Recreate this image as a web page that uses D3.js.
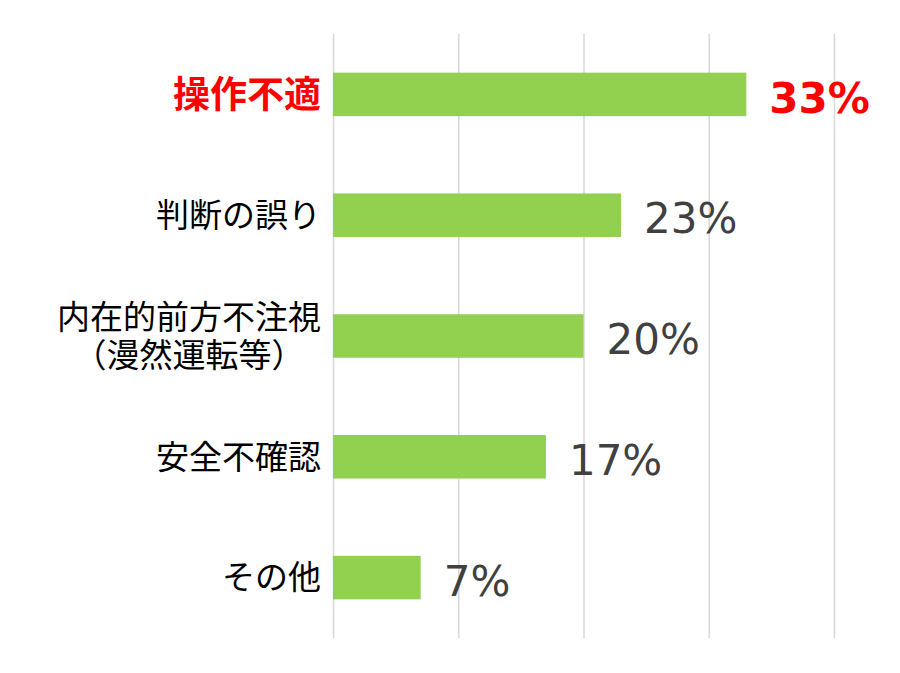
<!DOCTYPE html>
<html>
<head>
<meta charset="utf-8">
<script src="https://cdn.jsdelivr.net/npm/d3@7"></script>
<style>
  body { margin: 0; background: #fff; }
  svg { display: block; }
</style>
</head>
<body>
<svg id="causeChart"></svg>
<script>
// categories (a line break inside a label is a new line)
let categories = ["操作不適", "判断の誤り", "内在的前方不注視\n（漫然運転等）", "安全不確認", "その他"];
// share of accidents, percent
let values = [33, 23, 20, 17, 7];
// gridline ticks, percent
let gridTicks = [0, 10, 20, 30, 40];
// category drawn in red / bold
let highlight = "操作不適";

function getConfig() {
    let width = 900;
    let height = 673;
    let margin = { top: 34, bottom: 35, left: 333, right: 66 };
    let bodyHeight = height - margin.top - margin.bottom;
    let bodyWidth = width - margin.left - margin.right;
    let container = d3.select("#causeChart")
        .attr("width", width)
        .attr("height", height);
    return { width, height, margin, bodyHeight, bodyWidth, container };
}

function getScales(config) {
    let { margin, bodyWidth, bodyHeight } = config;
    let xScale = d3.scaleLinear()
        .domain([0, d3.max(gridTicks)])
        .range([margin.left, margin.left + bodyWidth]);
    let yScale = d3.scaleBand()
        .domain(categories)
        .range([margin.top, margin.top + bodyHeight])
        .paddingInner(0.64)
        .paddingOuter(0.32);
    return { xScale, yScale };
}

function drawGrid(scales, config) {
    let { xScale } = scales;
    let { container, margin, bodyHeight } = config;
    // vertical gridlines only, drawn with an axis and then stripped
    let axis = d3.axisBottom(xScale)
        .tickValues(gridTicks)
        .tickSize(-bodyHeight)
        .tickFormat("");
    let g = container.append("g")
        .attr("transform", "translate(0," + (margin.top + bodyHeight) + ")")
        .call(axis);
    g.select(".domain").remove();
    g.selectAll(".tick line")
        .attr("stroke", "#d9d9d9")
        .attr("stroke-width", 1.6);
}

function drawBars(scales, config) {
    let { xScale, yScale } = scales;
    let { container } = config;
    let data = categories.map((c, i) => ({ name: c, value: values[i] }));

    container.append("g").selectAll("rect")
        .data(data)
        .enter().append("rect")
        .attr("x", xScale(0))
        .attr("y", d => yScale(d.name))
        .attr("width", d => xScale(d.value) - xScale(0))
        .attr("height", yScale.bandwidth())
        .attr("fill", "#92d050");

    // value labels to the right of each bar
    container.append("g").selectAll("text")
        .data(data)
        .enter().append("text")
        .attr("x", d => xScale(d.value) + 23)
        .attr("y", d => yScale(d.name) + yScale.bandwidth() / 2 + 3)
        .attr("dy", "0.36em")
        .attr("font-family", "'DejaVu Sans', Verdana, sans-serif")
        .attr("font-size", 42)
        .attr("font-weight", d => d.name === highlight ? "bold" : "normal")
        .attr("fill", d => d.name === highlight ? "#ff0000" : "#404040")
        .text(d => d.value + "%");
}

function drawCategoryLabels(scales, config) {
    let { yScale } = scales;
    let rightEdge = 321;
    let lineHeight = 38;

    let labels = config.container.append("g").selectAll("text")
        .data(categories)
        .enter().append("text")
        .attr("font-family", "'Noto Sans CJK JP', 'Noto Sans', sans-serif")
        .attr("font-size", d => d === highlight ? 37 : 33)
        .attr("font-weight", d => d === highlight ? "bold" : "normal")
        .attr("fill", d => d === highlight ? "#ff0000" : "#000000");

    labels.each(function(d) {
        let text = d3.select(this);
        let lines = d.split("\n");
        let cy = yScale(d) + yScale.bandwidth() / 2;
        lines.forEach((line, i) => {
            text.append("tspan")
                .attr("y", cy + (i - (lines.length - 1) / 2) * lineHeight)
                .attr("dy", "0.36em")
                .text(line);
        });
        // lines are centred on each other, block is right aligned to the axis
        let widest = d3.max(text.selectAll("tspan").nodes(), n => n.getComputedTextLength());
        if (lines.length > 1) {
            text.attr("text-anchor", "middle")
                .selectAll("tspan").attr("x", rightEdge - widest / 2);
        } else {
            text.attr("text-anchor", "end")
                .selectAll("tspan").attr("x", rightEdge);
        }
    });
}

function drawChart() {
    let config = getConfig();
    let scales = getScales(config);
    drawGrid(scales, config);
    drawBars(scales, config);
    drawCategoryLabels(scales, config);
}

drawChart();
</script>
</body>
</html>
